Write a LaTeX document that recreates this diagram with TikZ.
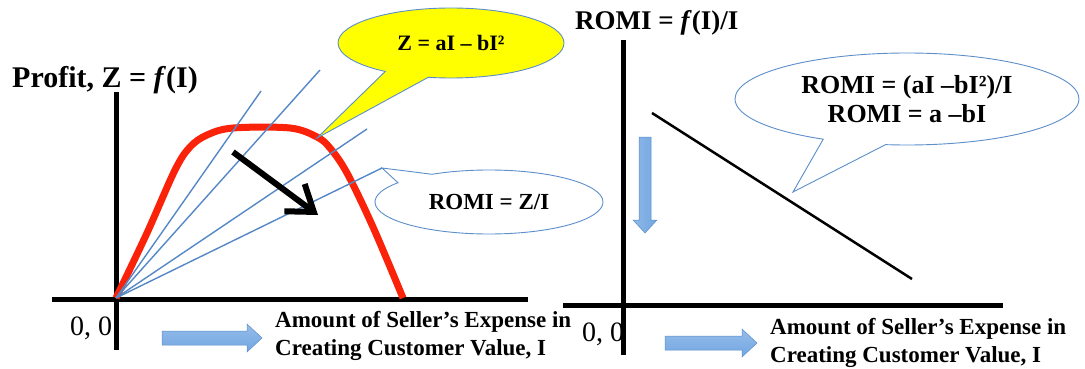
\documentclass[tikz,border=0pt]{standalone}
\usepackage{fontspec}
\setmainfont{Liberation Serif}
\usetikzlibrary{shapes.callouts,arrows.meta}
\definecolor{curvered}{RGB}{250,35,10}
\definecolor{rayblue}{RGB}{84,136,198}
\definecolor{fillblue}{RGB}{114,166,226}
\definecolor{edgeblue}{RGB}{92,142,202}
\definecolor{bubbleyellow}{RGB}{255,255,0}
\tikzset{
  axisline/.style={line width=5pt, black},
  ray/.style={line width=1.4pt, rayblue},
  bubble/.style={ellipse callout, draw=edgeblue, line width=0.9pt, inner sep=0pt, align=center},
  blockarrow/.style={top color=fillblue!75!white, bottom color=fillblue, draw=edgeblue, line width=0.5pt},
  blockarrowdown/.style={left color=fillblue!80!white, right color=fillblue, draw=edgeblue, line width=0.5pt},
  bodytext/.style={font=\fontsize{23}{28}\selectfont\bfseries, anchor=base west, inner sep=0pt},
  origintext/.style={font=\fontsize{28}{30}\selectfont, anchor=base west, inner sep=0pt},
}
\begin{document}
\begin{tikzpicture}[x=1pt,y=-1pt]
\useasboundingbox (0,0) rectangle (1085,369);
% ---------- left chart ----------
\coordinate (O1) at (116,298);
\node[origintext] (zero1) at (70,335) {0, 0};
\draw[axisline] (116,92) coordinate (ytop1) -- (116,350) coordinate (ybot1);
\draw[axisline] (52,299) coordinate (xl1) -- (528,299) coordinate (xr1);
\node[font=\fontsize{30}{32}\selectfont\bfseries, anchor=base west, inner sep=0pt] (ylab1) at (12,88) {Profit, Z = \textit{f}(I)};
% red profit curve
\draw[curvered, line width=7pt, line join=round] plot[smooth, tension=0.55] coordinates {(116,298) (147,233) (175,170) (190,147) (207,135) (233,128) (290,128) (317,137) (330,148) (347,173) (373,227) (403,298)};
% rays
\coordinate (r1) at (261,91);
\coordinate (r2) at (320,70);
\coordinate (r3) at (367,129);
\coordinate (r4) at (382,168);
\draw[ray] (O1) -- (r1);
\draw[ray] (O1) -- (r2);
\draw[ray] (O1) -- (r3);
\draw[ray] (O1) -- (r4);
% callouts
\node[bubble, fill=bubbleyellow, minimum width=226pt, minimum height=70pt, callout absolute pointer={(317,138)}, callout pointer arc=24, font=\fontsize{22}{24}\selectfont\bfseries] (zeq) at (451,43) {Z = aI – bI²};
\node[bubble, fill=white, minimum width=228pt, minimum height=64pt, callout absolute pointer={(r4)}, callout pointer arc=23, font=\fontsize{23}{25}\selectfont\bfseries] (romi1) at (489,202) {ROMI = Z/I};
% black arrow
\coordinate (a1) at (233,152);
\coordinate (a2) at (318,215);
\draw[line width=6pt, -{Straight Barb[length=24pt,width=34pt]}] (a1) -- (a2);
% bottom block arrow
\path[blockarrow] (162,331) -- (247,331) -- (247,324) -- (262,338) -- (247,352) -- (247,345) -- (162,345) -- cycle;
\node[bodytext] (xlab1a) at (275,327) {Amount of Seller’s Expense in};
\node[bodytext] (xlab1b) at (275,355) {Creating Customer Value, I};
% ---------- right chart ----------
\node[origintext] (zero2) at (582,341) {0, 0};
\draw[axisline] (623,40) coordinate (ytop2) -- (623,355) coordinate (ybot2);
\draw[axisline] (563,305) coordinate (xl2) -- (1003,305) coordinate (xr2);
\node[font=\fontsize{27}{29}\selectfont\bfseries, anchor=base west, inner sep=0pt] (ylab2) at (575,30) {ROMI = \textit{f}(I)/I};
\coordinate (l1) at (652,113);
\coordinate (l2) at (912,279);
\draw[line width=2.5pt, black] (l1) -- (l2);
\node[bubble, fill=white, minimum width=344pt, minimum height=92pt, callout absolute pointer={(793,192)}, callout pointer arc=22, font=\fontsize{26}{29}\selectfont\bfseries] (romi2) at (907,99) {ROMI = (aI –bI²)/I\\ROMI = a –bI};
% down block arrow
\path[blockarrowdown] (639,137) -- (651,137) -- (651,220) -- (657,220) -- (645,233) -- (633,220) -- (639,220) -- cycle;
% right bottom block arrow
\path[blockarrow] (665,336) -- (742,336) -- (742,329) -- (757,343) -- (742,357) -- (742,350) -- (665,350) -- cycle;
\node[bodytext] (xlab2a) at (770,334) {Amount of Seller’s Expense in};
\node[bodytext] (xlab2b) at (770,362) {Creating Customer Value, I};
\end{tikzpicture}
\end{document}
